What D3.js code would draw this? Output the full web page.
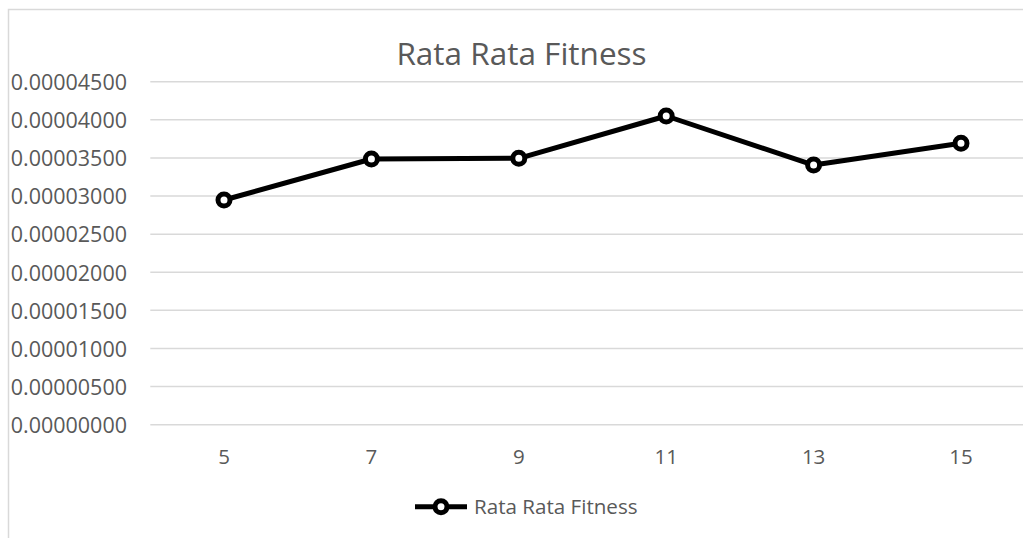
<!DOCTYPE html>
<html>
<head>
<meta charset="utf-8">
<script src="https://cdn.jsdelivr.net/npm/d3@7"></script>
<style>
  html, body { margin: 0; padding: 0; background: #fff; }
  svg { display: block; font-family: "Open Sans", Lato, sans-serif; }
</style>
</head>
<body>
<svg id="chart" width="1023" height="538"></svg>
<script>
// Average fitness per parameter setting
const categories = ["5", "7", "9", "11", "13", "15"];
const fitness = [0.00002948, 0.00003486, 0.00003495, 0.00004050, 0.00003407, 0.00003692];
const yTicks = [0, 0.000005, 0.00001, 0.000015, 0.00002, 0.000025, 0.00003, 0.000035, 0.00004, 0.000045];
const seriesName = "Rata Rata Fitness";
const chartTitle = "Rata Rata Fitness";

const svg = d3.select("#chart");
const W = 1023, H = 538;
const plot = { left: 150.3, right: 1034.7, top: 81.7, bottom: 424.7 };
const textColor = "#595959";
const gridColor = "#d9d9d9";
const font = "'Open Sans', sans-serif";

// chart frame (left and top edges)
svg.append("path")
  .attr("d", `M8.5,${H} V9.5 H${W}`)
  .attr("fill", "none")
  .attr("stroke", gridColor)
  .attr("stroke-width", 1.5);

const x = d3.scaleBand().domain(categories).range([plot.left, plot.right]);
const y = d3.scaleLinear().domain([0, 0.000045]).range([plot.bottom, plot.top]);

// horizontal gridlines
svg.append("g")
  .selectAll("line")
  .data(yTicks)
  .join("line")
  .attr("x1", plot.left)
  .attr("x2", plot.right)
  .attr("y1", d => y(d))
  .attr("y2", d => y(d))
  .attr("stroke", gridColor)
  .attr("stroke-width", 1.5);

// y axis labels
const yAxis = d3.axisLeft(y)
  .tickValues(yTicks)
  .tickFormat(d => d.toFixed(8))
  .tickSize(0)
  .tickPadding(0);
const yg = svg.append("g")
  .attr("transform", `translate(127,0)`)
  .call(yAxis);
yg.select(".domain").remove();
yg.selectAll("text")
  .attr("fill", textColor)
  .attr("font-family", font)
  .attr("font-size", 21.5)
  .attr("dy", "0.36em");

// x axis labels
const xAxis = d3.axisBottom(x).tickSize(0).tickPadding(0);
const xg = svg.append("g")
  .attr("transform", `translate(0,464)`)
  .call(xAxis);
xg.select(".domain").remove();
xg.selectAll("text")
  .attr("fill", textColor)
  .attr("font-family", font)
  .attr("font-size", 20.5)
  .attr("dy", 0)
  .attr("y", 0);

// title
svg.append("text")
  .attr("x", 521.5)
  .attr("y", 64.5)
  .attr("text-anchor", "middle")
  .attr("fill", textColor)
  .attr("font-family", font)
  .attr("font-size", 31.5)
  .text(chartTitle);

// series line
const cx = d => x(d) + x.bandwidth() / 2;
const line = d3.line()
  .x((d, i) => cx(categories[i]))
  .y(d => y(d));
svg.append("path")
  .datum(fitness)
  .attr("d", line)
  .attr("fill", "none")
  .attr("stroke", "#000")
  .attr("stroke-width", 5)
  .attr("stroke-linejoin", "round");

svg.append("g")
  .selectAll("circle")
  .data(fitness)
  .join("circle")
  .attr("cx", (d, i) => cx(categories[i]))
  .attr("cy", d => y(d))
  .attr("r", 6)
  .attr("fill", "#fff")
  .attr("stroke", "#000")
  .attr("stroke-width", 5);

// legend
const lg = svg.append("g");
lg.append("line")
  .attr("x1", 415).attr("x2", 467)
  .attr("y1", 506.7).attr("y2", 506.7)
  .attr("stroke", "#000")
  .attr("stroke-width", 5);
lg.append("circle")
  .attr("cx", 441).attr("cy", 506.7)
  .attr("r", 6)
  .attr("fill", "#fff")
  .attr("stroke", "#000")
  .attr("stroke-width", 5);
lg.append("text")
  .attr("x", 474)
  .attr("y", 514)
  .attr("fill", textColor)
  .attr("font-family", font)
  .attr("font-size", 20.6)
  .text(seriesName);
</script>
</body>
</html>
